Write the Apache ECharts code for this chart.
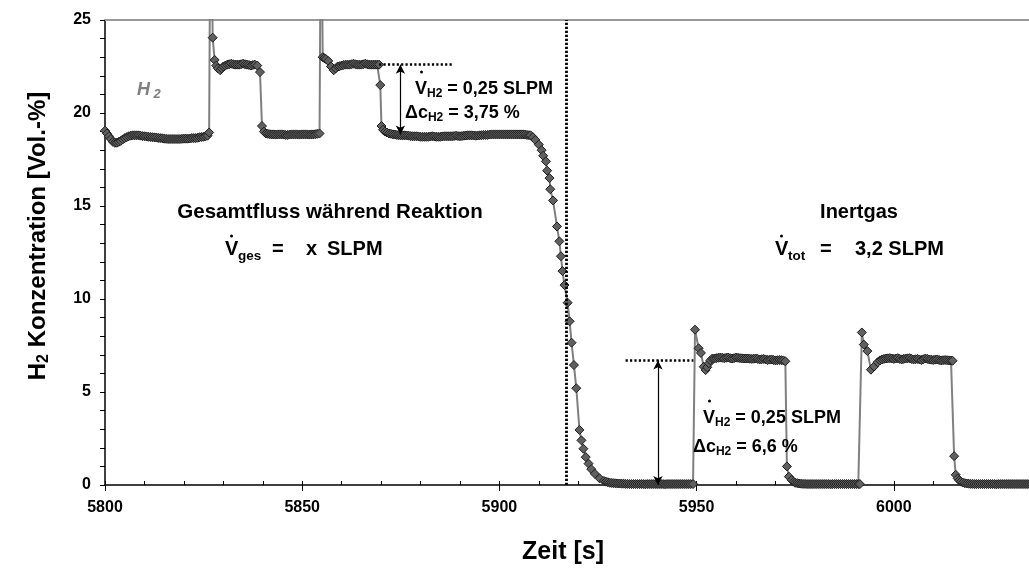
<!DOCTYPE html>
<html><head><meta charset="utf-8">
<script src="https://cdn.jsdelivr.net/npm/echarts@6/dist/echarts.min.js"></script>
<style>html,body{margin:0;padding:0;background:#fff}#c{width:1029px;height:575px}</style>
</head><body><div id="c"></div>
<script>
// Axis ranges
const X_MIN = 5800, X_MAX = 6050, X_STEP = 50;
const Y_MIN = 0, Y_MAX = 25, Y_STEP = 5;

// Data: [time (s), H2 concentration (Vol.-%)]
const segBaseline1 = [[5800,19.05],[5800.5,18.9],[5801,18.75],[5801.5,18.6],[5802,18.45],[5802.5,18.4],[5803,18.4],[5803.5,18.45],[5804,18.5],[5804.5,18.58],[5805,18.65],[5805.5,18.7],[5806,18.75],[5806.5,18.78],[5807,18.8],[5807.5,18.8],[5808,18.8],[5808.5,18.8],[5809,18.78],[5809.5,18.76],[5810,18.75],[5810.5,18.74],[5811,18.72],[5811.5,18.71],[5812,18.7],[5812.5,18.69],[5813,18.68],[5813.5,18.66],[5814,18.65],[5814.5,18.64],[5815,18.62],[5815.5,18.61],[5816,18.6],[5816.5,18.6],[5817,18.6],[5817.5,18.6],[5818,18.6],[5818.5,18.6],[5819,18.6],[5819.5,18.61],[5820,18.62],[5820.5,18.62],[5821,18.62],[5821.5,18.63],[5822,18.65],[5822.5,18.65],[5823,18.65],[5823.5,18.67],[5824,18.7],[5824.5,18.71],[5825,18.72],[5825.5,18.75],[5826,18.78],[5826.4,18.95]];
const segPulse1 = [[5826.8,34],[5827.3,24.05],[5827.8,22.85],[5828.2,22.55],[5828.6,22.4],[5829.2,22.3],[5829.6,22.4],[5830,22.5],[5830.5,22.55],[5831,22.6],[5831.5,22.62],[5832,22.65],[5832.5,22.62],[5833,22.6],[5833.5,22.6],[5834,22.6],[5834.5,22.62],[5835,22.65],[5835.5,22.62],[5836,22.6],[5836.5,22.58],[5837,22.55],[5837.5,22.58],[5838,22.6],[5838.6,22.55],[5839.3,22.2],[5839.8,19.3]];
const segBaseline2 = [[5840.3,19.0],[5840.8,18.9],[5841.3,18.88],[5841.8,18.86],[5842.3,18.85],[5842.8,18.85],[5843.3,18.84],[5843.8,18.85],[5844.3,18.85],[5844.8,18.85],[5845.3,18.84],[5845.8,18.82],[5846.3,18.82],[5846.8,18.84],[5847.3,18.85],[5847.8,18.85],[5848.3,18.85],[5848.8,18.85],[5849.3,18.84],[5849.8,18.85],[5850.3,18.85],[5850.8,18.85],[5851.3,18.85],[5851.8,18.84],[5852.3,18.85],[5852.8,18.85],[5853.3,18.86],[5853.8,18.88],[5854.4,18.9]];
const segPulse2 = [[5854.8,34],[5855.2,23.0],[5855.6,22.95],[5856,22.9],[5856.6,22.8],[5857.3,22.5],[5858,22.3],[5858.5,22.4],[5859,22.5],[5859.5,22.52],[5860,22.55],[5860.5,22.58],[5861,22.6],[5861.5,22.6],[5862,22.6],[5862.5,22.62],[5863,22.65],[5863.5,22.62],[5864,22.6],[5864.5,22.6],[5865,22.6],[5865.5,22.62],[5866,22.65],[5866.5,22.62],[5867,22.6],[5867.5,22.6],[5868,22.6],[5868.5,22.6],[5869,22.6],[5869.5,22.6],[5869.8,21.5],[5870.1,19.3]];
const segBaseline3 = [[5870.5,19.1],[5871,19.0],[5871.5,18.95],[5872,18.9],[5872.5,18.88],[5873,18.85],[5873.5,18.84],[5874,18.82],[5874.5,18.81],[5875,18.8],[5875.5,18.8],[5876,18.8],[5876.5,18.79],[5877,18.78],[5877.5,18.76],[5878,18.75],[5878.5,18.75],[5879,18.75],[5879.5,18.74],[5880,18.72],[5880.5,18.72],[5881,18.72],[5881.5,18.72],[5882,18.72],[5882.5,18.74],[5883,18.75],[5883.5,18.74],[5884,18.72],[5884.5,18.72],[5885,18.72],[5885.5,18.74],[5886,18.75],[5886.5,18.75],[5887,18.75],[5887.5,18.75],[5888,18.75],[5888.5,18.76],[5889,18.78],[5889.5,18.76],[5890,18.75],[5890.5,18.76],[5891,18.78],[5891.5,18.79],[5892,18.8],[5892.5,18.8],[5893,18.8],[5893.5,18.79],[5894,18.78],[5894.5,18.79],[5895,18.8],[5895.5,18.81],[5896,18.82],[5896.5,18.82],[5897,18.82],[5897.5,18.84],[5898,18.85],[5898.5,18.85],[5899,18.85],[5899.5,18.85],[5900,18.85],[5900.5,18.85],[5901,18.85],[5901.5,18.85],[5902,18.85],[5902.5,18.85],[5903,18.85],[5903.5,18.85],[5904,18.85],[5904.5,18.85],[5905,18.85],[5905.5,18.85],[5906,18.85],[5906.5,18.84],[5907,18.82],[5907.5,18.81],[5907.9,18.8]];
const segSwitchToInert = [[5908.5,18.7],[5909.1,18.55],[5910.0,18.3],[5910.7,18.0],[5911.1,17.7],[5911.8,17.4],[5912.1,16.9],[5912.7,16.5],[5912.9,15.9],[5913.6,15.3],[5914.6,13.9],[5915.2,13.1],[5915.6,12.3],[5916.0,11.5],[5916.5,10.75],[5917.3,9.8],[5917.8,8.8],[5918.3,7.65],[5918.9,6.45],[5919.5,5.2],[5920.3,2.96],[5920.8,2.4],[5921.3,1.95],[5921.9,1.5],[5922.6,1.15],[5923.3,0.85],[5924.2,0.6],[5925.4,0.36],[5926.5,0.22],[5927,0.18],[5927.5,0.15],[5928,0.12],[5928.5,0.11],[5929,0.1],[5929.5,0.09],[5930,0.08],[5930.5,0.08]];
const segInertBase1 = [[5931,0.07],[5931.5,0.07],[5932,0.06],[5932.5,0.06],[5933,0.05],[5933.5,0.05],[5934,0.05],[5934.5,0.05],[5935,0.05],[5935.5,0.05],[5936,0.05],[5936.5,0.05],[5937,0.04],[5937.5,0.05],[5938,0.05],[5938.5,0.05],[5939,0.05],[5939.5,0.05],[5940,0.05],[5940.5,0.05],[5941,0.05],[5941.5,0.05],[5942,0.04],[5942.5,0.05],[5943,0.05],[5943.5,0.05],[5944,0.05],[5944.5,0.05],[5945,0.05],[5945.5,0.05],[5946,0.05],[5946.5,0.05],[5947,0.05],[5947.5,0.05],[5948,0.05],[5948.5,0.05],[5949.1,0.05]];
const segPulse3 = [[5949.6,8.35],[5950.5,7.35],[5951.1,7.1],[5951.8,6.36],[5952.3,6.18],[5952.7,6.33],[5953.1,6.54],[5953.5,6.7],[5954,6.8],[5954.5,6.8],[5955,6.82],[5955.5,6.84],[5956,6.85],[5956.5,6.84],[5957,6.82],[5957.5,6.84],[5958,6.85],[5958.5,6.82],[5959,6.8],[5959.5,6.82],[5960,6.85],[5960.5,6.84],[5961,6.82],[5961.5,6.81],[5962,6.8],[5962.5,6.8],[5963,6.8],[5963.5,6.79],[5964,6.78],[5964.5,6.79],[5965,6.8],[5965.5,6.78],[5966,6.75],[5966.5,6.76],[5967,6.78],[5967.5,6.75],[5968,6.72],[5968.5,6.74],[5969,6.75],[5969.5,6.72],[5970,6.7],[5970.5,6.71],[5971,6.72],[5971.5,6.71],[5972,6.7],[5972.5,6.65],[5972.9,1.0]];
const segInertBase2 = [[5973.4,0.45],[5974.1,0.27],[5974.6,0.18],[5975,0.12],[5975.5,0.1],[5976,0.08],[5976.5,0.07],[5977,0.06],[5977.5,0.06],[5978,0.05],[5978.5,0.05],[5979,0.05],[5979.5,0.05],[5980,0.05],[5980.5,0.05],[5981,0.05],[5981.5,0.05],[5982,0.05],[5982.5,0.05],[5983,0.05],[5983.5,0.05],[5984,0.04],[5984.5,0.05],[5985,0.05],[5985.5,0.05],[5986,0.05],[5986.5,0.05],[5987,0.05],[5987.5,0.05],[5988,0.05],[5988.5,0.05],[5989,0.05],[5989.5,0.05],[5990,0.05],[5990.5,0.05],[5991,0.05],[5991.4,0.05]];
const segPulse4 = [[5991.9,8.2],[5992.4,7.55],[5993.3,7.2],[5994.2,6.2],[5995,6.37],[5995.9,6.6],[5996.5,6.7],[5997,6.75],[5997.5,6.78],[5998,6.8],[5998.5,6.81],[5999,6.82],[5999.5,6.8],[6000,6.78],[6000.5,6.8],[6001,6.82],[6001.5,6.78],[6002,6.75],[6002.5,6.78],[6003,6.8],[6003.5,6.81],[6004,6.82],[6004.5,6.78],[6005,6.75],[6005.5,6.76],[6006,6.78],[6006.5,6.75],[6007,6.72],[6007.5,6.76],[6008,6.8],[6008.5,6.78],[6009,6.75],[6009.5,6.74],[6010,6.72],[6010.5,6.74],[6011,6.75],[6011.5,6.72],[6012,6.7],[6012.5,6.71],[6013,6.72],[6013.5,6.71],[6014,6.7],[6014.5,6.69],[6014.9,6.68],[6015.3,1.55]];
const segInertBase3 = [[6015.7,0.55],[6016.2,0.35],[6016.6,0.25],[6017,0.18],[6017.5,0.13],[6018,0.1],[6018.5,0.08],[6019,0.07],[6019.5,0.06],[6020,0.06],[6020.5,0.05],[6021,0.05],[6021.5,0.05],[6022,0.05],[6022.5,0.05],[6023,0.05],[6023.5,0.05],[6024,0.05],[6024.5,0.05],[6025,0.05],[6025.5,0.05],[6026,0.04],[6026.5,0.05],[6027,0.05],[6027.5,0.05],[6028,0.05],[6028.5,0.05],[6029,0.05],[6029.5,0.05],[6030,0.05],[6030.5,0.05],[6031,0.05],[6031.5,0.05],[6032,0.05],[6032.5,0.05],[6033,0.05],[6033.5,0.05],[6034,0.05],[6034.5,0.05],[6035,0.05],[6035.5,0.05],[6036,0.05]];

// Annotation values (data units)
const switchTime = 5917;
const pulseRef1 = {t0: 5869.5, t1: 5888.3, tArrow: 5874.9, top: 22.6, bottom: 18.85};
const pulseRef2 = {t0: 5932, t1: 5949.2, tArrow: 5940.2, top: 6.7, bottom: 0};

const series = [].concat(segBaseline1, segPulse1, segBaseline2, segPulse2, segBaseline3,
  segSwitchToInert, segInertBase1, segPulse3, segInertBase2, segPulse4, segInertBase3);

const FF = "'Liberation Sans', Arial, Helvetica, sans-serif";
const dotted = {color:'#000', width:2.8, type:[2.2,1.8]};
const dottedH = {color:'#000', width:2.5, type:[2.2,2.2]};
const arrowStyle = {color:'#000', width:1.2, type:'solid'};

const chart = echarts.init(document.getElementById('c'), null, {renderer:'canvas'});

function txt(x, y, text, size, align, extra) {
  const subSize = Math.round(size*0.68);
  return Object.assign({
    type:'text', x:x, y:y, z:50,
    style: {
      text: text, fontSize: size, fontWeight:'bold', fontFamily: FF, fill:'#000',
      align: align, verticalAlign:'middle',
      rich: {
        n: {fontSize:size, fontWeight:'bold', fontFamily:FF, fill:'#000', lineHeight:size+4},
        s: {fontSize:subSize, fontWeight:'bold', fontFamily:FF, fill:'#000', verticalAlign:'bottom', lineHeight:subSize}
      }
    }
  }, extra || {});
}
const dot = (cx, cy) => ({type:'circle', z:50, shape:{cx:cx, cy:cy, r:1.5}, style:{fill:'#000'}});

chart.setOption({
  animation:false,
  backgroundColor:'#fff',
  grid:{left:105, top:20, width:986, height:465, containLabel:false, outerBoundsMode:'none'},
  xAxis:[
    {type:'value', min:X_MIN, max:X_MAX, interval:X_STEP, position:'bottom',
     axisLine:{show:true, onZero:false, lineStyle:{color:'#000', width:1.5}},
     axisTick:{show:true, inside:true, length:4, lineStyle:{color:'#000', width:1}},
     minorTick:{show:true, splitNumber:5, length:4, lineStyle:{color:'#000', width:1}},
     axisLabel:{show:true, margin:15, fontSize:16, fontWeight:'bold', fontFamily:FF, color:'#000',
       formatter:(v)=> (v % X_STEP === 0 ? String(v) : '')},
     splitLine:{show:false}},
    {type:'value', min:X_MIN, max:X_MAX, interval:X_STEP, position:'bottom',
     axisLine:{show:false, onZero:false},
     axisTick:{show:true, inside:false, length:6, lineStyle:{color:'#000', width:1}},
     axisLabel:{show:false}, splitLine:{show:false}},
    {type:'value', min:X_MIN, max:X_MAX, interval:X_STEP, position:'top',
     axisLine:{show:true, onZero:false, lineStyle:{color:'#999', width:2}},
     axisTick:{show:false}, axisLabel:{show:false}, splitLine:{show:false}}
  ],
  yAxis:[
    {type:'value', min:Y_MIN, max:Y_MAX, interval:Y_STEP,
     axisLine:{show:true, onZero:false, lineStyle:{color:'#000', width:1.5}},
     axisTick:{show:true, inside:false, length:5, lineStyle:{color:'#000', width:1}},
     minorTick:{show:true, splitNumber:5, length:5, lineStyle:{color:'#000', width:1}},
     axisLabel:{margin:14, fontSize:16, fontWeight:'bold', fontFamily:FF, color:'#000'},
     splitLine:{show:false}}
  ],
  series:[
    {type:'line', xAxisIndex:0, yAxisIndex:0, data:series, clip:true, z:3,
     symbol:'diamond', symbolSize:9, showSymbol:true,
     lineStyle:{color:'#808080', width:2},
     itemStyle:{color:'#606060', borderColor:'#1e1e1e', borderWidth:1},
     emphasis:{disabled:true},
     markLine:{silent:true, animation:false, symbol:'none', label:{show:false}, z:5,
       emphasis:{disabled:true},
       data:[
         [{coord:[switchTime, Y_MIN], lineStyle:dotted}, {coord:[switchTime, Y_MAX]}],
         [{coord:[pulseRef1.t0, pulseRef1.top], lineStyle:dottedH}, {coord:[pulseRef1.t1, pulseRef1.top]}],
         [{coord:[pulseRef2.t0, pulseRef2.top], lineStyle:dottedH}, {coord:[pulseRef2.t1, pulseRef2.top]}],
         [{coord:[pulseRef1.tArrow, pulseRef1.top], symbol:'arrow', symbolSize:[7,9], lineStyle:arrowStyle},
          {coord:[pulseRef1.tArrow, pulseRef1.bottom], symbol:'arrow', symbolSize:[7,9]}],
         [{coord:[pulseRef2.tArrow, pulseRef2.top], symbol:'arrow', symbolSize:[7,9], lineStyle:arrowStyle},
          {coord:[pulseRef2.tArrow, pulseRef2.bottom], symbol:'arrow', symbolSize:[7,9]}]
       ]}
    }
  ],
  graphic:[
    // axis titles
    txt(563, 552, 'Zeit [s]', 25, 'center'),
    txt(38, 236, '{n|H}{s|2}{n| Konzentration [Vol.-%]}', 24, 'center', {rotation:Math.PI/2}),
    // H2 label
    {type:'text', x:137, y:90, z:50, style:{text:'{h|H}{s| 2}', align:'left', verticalAlign:'middle',
      rich:{h:{fontSize:18, fontWeight:'bold', fontStyle:'italic', fontFamily:FF, fill:'#7f7f7f', lineHeight:22},
            s:{fontSize:13, fontWeight:'bold', fontStyle:'italic', fontFamily:FF, fill:'#7f7f7f', verticalAlign:'bottom', lineHeight:13}}}},
    // annotation 1
    txt(415, 89, '{n|V}{s|H2}{n| = 0,25 SLPM}', 18, 'left'),
    dot(421.5, 72),
    txt(405, 113, '{n|Δc}{s|H2}{n| = 3,75 %}', 18, 'left'),
    // reaction phase
    txt(330, 212, 'Gesamtfluss während Reaktion', 20.5, 'center'),
    txt(225, 249, 'V', 20, 'left'),
    txt(238, 256, 'ges', 13.5, 'left'),
    txt(272, 249, '=', 20, 'left'),
    txt(306, 249, 'x', 20, 'left'),
    txt(327, 249, 'SLPM', 20, 'left'),
    dot(231.5, 236),
    // inert phase
    txt(859, 212, 'Inertgas', 20, 'center'),
    txt(775, 249, 'V', 20, 'left'),
    txt(788, 256, 'tot', 13.5, 'left'),
    txt(820, 249, '=', 20, 'left'),
    txt(855, 249, '3,2 SLPM', 20, 'left'),
    dot(781.5, 236),
    // annotation 2
    txt(703, 418, '{n|V}{s|H2}{n| = 0,25 SLPM}', 18, 'left'),
    dot(709.5, 401),
    txt(693, 447, '{n|Δc}{s|H2}{n| = 6,6 %}', 18, 'left')
  ]
});
</script>
</body></html>
